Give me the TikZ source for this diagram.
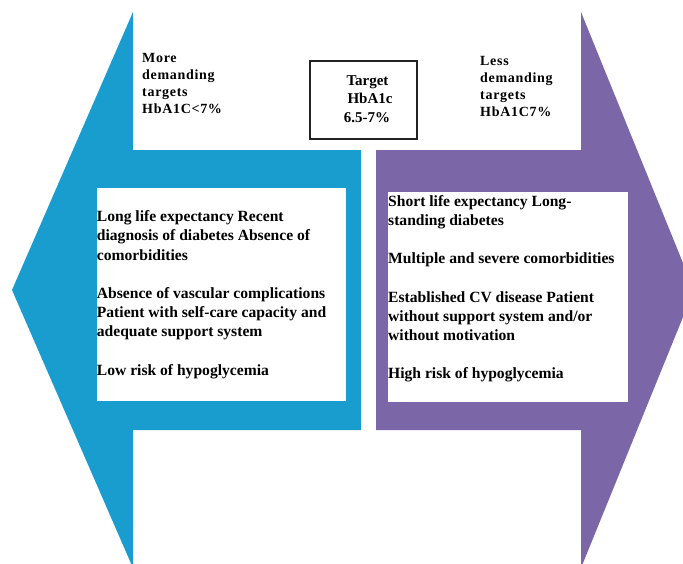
\documentclass[tikz,border=0pt]{standalone}
\usepackage{fontspec}
\setmainfont{Liberation Serif}
\newfontfamily\spacedserif[LetterSpace=5]{Liberation Serif}
\definecolor{leftblue}{HTML}{199DCE}
\definecolor{rightpurple}{HTML}{7B67A8}
\definecolor{boxline}{HTML}{222222}
\begin{document}
\begin{tikzpicture}[x=1pt,y=-1pt,
  bodytext/.style={anchor=base west, inner sep=0pt, text=black,
    font=\fontsize{15.6}{19.2}\selectfont\bfseries},
  toptext/.style={anchor=base west, inner sep=0pt, text=black,
    font=\spacedserif\fontsize{14}{16.9}\selectfont\bfseries},
  targettext/.style={anchor=base, inner sep=0pt, text=black,
    font=\fontsize{15}{18.5}\selectfont\bfseries},
  whitebox/.style={fill=white, draw=none},
  targetbox/.style={fill=white, draw=boxline, line width=1.5pt}
]
\useasboundingbox (0,0) rectangle (683,563);
\fill[white] (0,0) rectangle (683,563);
\clip (0,0) rectangle (683,563);

% left arrow (blue)
\fill[leftblue] (12,290) -- (133,12) -- (133,150) -- (361,150) -- (361,430)
  -- (133,430) -- (133,568) -- cycle;
% right arrow (purple)
\fill[rightpurple] (376,150) -- (581,150) -- (581,12) -- (694,290)
  -- (581,568) -- (581,430) -- (376,430) -- cycle;

% white content boxes
\fill[whitebox] (96.7,188) rectangle (345.5,400.5);
\fill[whitebox] (388,192) rectangle (627.5,402);

% target box
\draw[targetbox] (310,61) rectangle (417,139);
\node[targettext] (t1) at (367.5,85) {Target};
\node[targettext] (t2) at (370,103.5) {HbA1c};
\node[targettext] (t3) at (367,122) {6.5-7\%};

% top labels
\node[toptext] (lefttop) at (142,62.7) {\vtop{\hbox{More}\hbox{demanding}\hbox{targets}\hbox{HbA1C<7\%}}};
\node[toptext] (righttop) at (480,65.5) {\vtop{\hbox{Less}\hbox{demanding}\hbox{targets}\hbox{HbA1C7\%}}};

% left box text
\node[bodytext] (lefttext) at (96.7,221.7) {\vtop{%
  \hbox{Long life expectancy Recent}
  \hbox{diagnosis of diabetes Absence of}
  \hbox{comorbidities}
  \hbox{}
  \hbox{Absence of vascular complications}
  \hbox{Patient with self-care capacity and}
  \hbox{adequate support system}
  \hbox{}
  \hbox{Low risk of hypoglycemia}}};

% right box text
\node[bodytext] (righttext) at (388,206) {\vtop{%
  \hbox{Short life expectancy Long-}
  \hbox{standing diabetes}
  \hbox{}
  \hbox{Multiple and severe comorbidities}
  \hbox{}
  \hbox{Established CV disease Patient}
  \hbox{without support system and/or}
  \hbox{without motivation}
  \hbox{}
  \hbox{High risk of hypoglycemia}}};
\end{tikzpicture}
\end{document}
